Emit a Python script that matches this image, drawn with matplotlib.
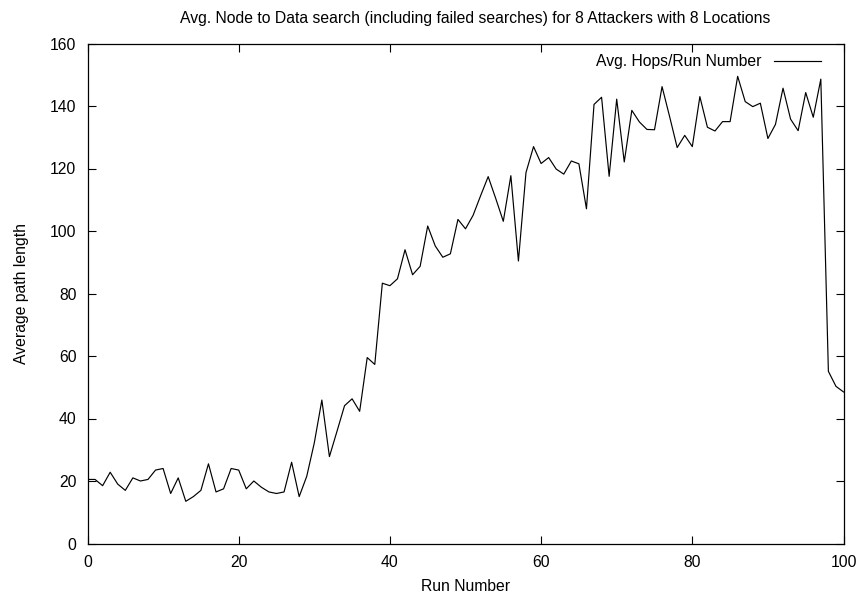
import matplotlib
matplotlib.use('Agg')
import matplotlib.pyplot as plt

# average hops per run
runs = list(range(0, 101))
avg_hops = [
    20.5, 20.5, 18.5, 22.8, 19.0, 17.0, 21.0, 20.0, 20.5, 23.5,
    24.0, 16.0, 21.0, 13.5, 15.0, 17.0, 25.5, 16.5, 17.5, 24.0,
    23.5, 17.5, 20.0, 18.0, 16.5, 16.0, 16.5, 26.0, 15.0, 21.5,
    32.2, 45.9, 27.8, 35.9, 44.1, 46.3, 42.3, 59.5, 57.3, 83.3,
    82.5, 84.7, 94.0, 86.0, 88.7, 101.6, 95.2, 91.6, 92.7, 103.7,
    100.7, 105.0, 111.3, 117.4, 110.4, 103.1, 117.7, 90.4, 118.7, 127.0,
    121.6, 123.5, 119.8, 118.2, 122.4, 121.5, 107.1, 140.5, 142.8, 117.5,
    142.2, 122.1, 138.6, 134.9, 132.5, 132.4, 146.2, 136.6, 126.7, 130.6,
    127.0, 143.0, 133.2, 132.0, 135.0, 135.0, 149.5, 141.4, 139.8, 140.9,
    129.6, 134.1, 145.7, 135.8, 132.1, 144.3, 136.4, 148.6, 55.1, 50.3,
    48.5,
]

fs = 11.3
plt.rcParams['font.family'] = ['Liberation Sans', 'DejaVu Sans']
plt.rcParams['font.size'] = fs

fig = plt.figure(figsize=(8.64, 5.99), dpi=100)
ax = fig.add_axes([87.5 / 864, 1 - 543.5 / 599, 756 / 864, 500 / 599])

ax.plot(runs, avg_hops, color='black', linewidth=0.85, label='Avg. Hops/Run Number')

ax.set_xlim(0, 100)
ax.set_ylim(0, 160)
ax.set_xticks(range(0, 101, 20))
ax.set_yticks(range(0, 161, 20))
ax.tick_params(direction='in', length=6, width=0.8, top=True, right=True, labelsize=fs, pad=8)
for s in ax.spines.values():
    s.set_linewidth(0.9)

ax.set_xlabel('Run Number', fontsize=fs, labelpad=7)
ax.set_ylabel('Average path length', fontsize=fs, labelpad=15)
ax.set_title('Avg. Node to Data search (including failed searches) for 8 Attackers with 8 Locations',
             fontsize=fs, pad=15, x=0.513)

leg = ax.legend(loc='upper right', frameon=False, markerfirst=False, handlelength=3.0,
                fontsize=fs, borderaxespad=0.3, bbox_to_anchor=(0.985, 1.0))

fig.savefig('out.png', dpi=100)
